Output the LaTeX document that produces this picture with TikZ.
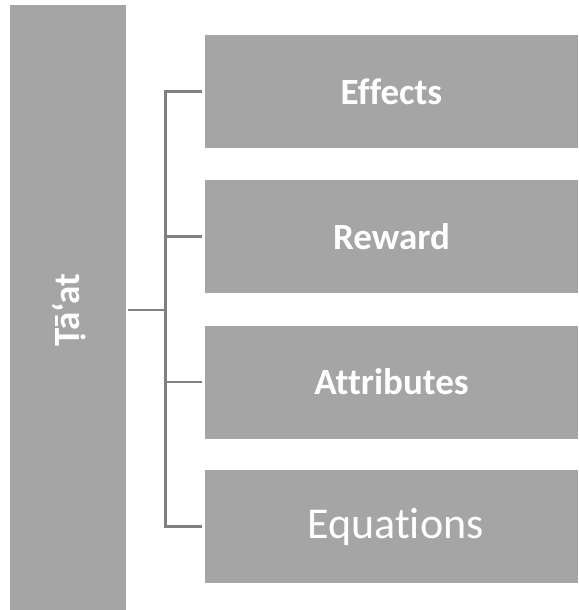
\documentclass[tikz,border=0pt]{standalone}
\usepackage{fontspec}
\setmainfont[Ligatures=NoCommon]{Carlito}
\definecolor{boxgray}{RGB}{165,165,165}
\definecolor{linegray}{RGB}{128,128,128}
\tikzset{
  block/.style={fill=boxgray, draw=none, text=white, inner sep=0pt,
    minimum width=373, minimum height=113, font=\bfseries\fontsize{37}{40}\selectfont},
  branch/.style={draw=linegray, line width=2.2},
}
\begin{document}
\begin{tikzpicture}[x=1pt,y=1pt,yscale=-1,xscale=1]
\useasboundingbox (0,0) rectangle (578,610);

%Shape: Rectangle (left bar)
\node (taat) [fill=boxgray, inner sep=0pt, minimum width=116, minimum height=605] at (68,307.5) {};
% Text Node
\node (taatlabel) [rotate=90, text=white, font=\bfseries\fontsize{37}{40}\selectfont] at (69,310) {Ṭā‘at};

%Shape: Rectangle
\node (effects) [block] at (391.5,91.5) {Effects};
%Shape: Rectangle
\node (reward) [block] at (391.5,236.5) {Reward};
%Shape: Rectangle
\node (attributes) [block] at (391.5,382) {Attributes};
%Shape: Rectangle
\node (equations) [block, font=\fontsize{44}{48}\selectfont] at (391.5,526.5) {\hspace*{8pt}Equations};

%Straight Lines
\coordinate (spine) at (165.5,310);
\draw [branch, shorten <=2] (taat.east |- spine) -- (spine);
\draw [branch, shorten <=3, shorten >=3] (effects.west) -| (spine) |- (equations.west);
\draw [branch, shorten >=3] (spine |- reward.west) -- (reward.west);
\draw [branch, shorten >=3] (spine |- attributes.west) -- (attributes.west);

\end{tikzpicture}
\end{document}
